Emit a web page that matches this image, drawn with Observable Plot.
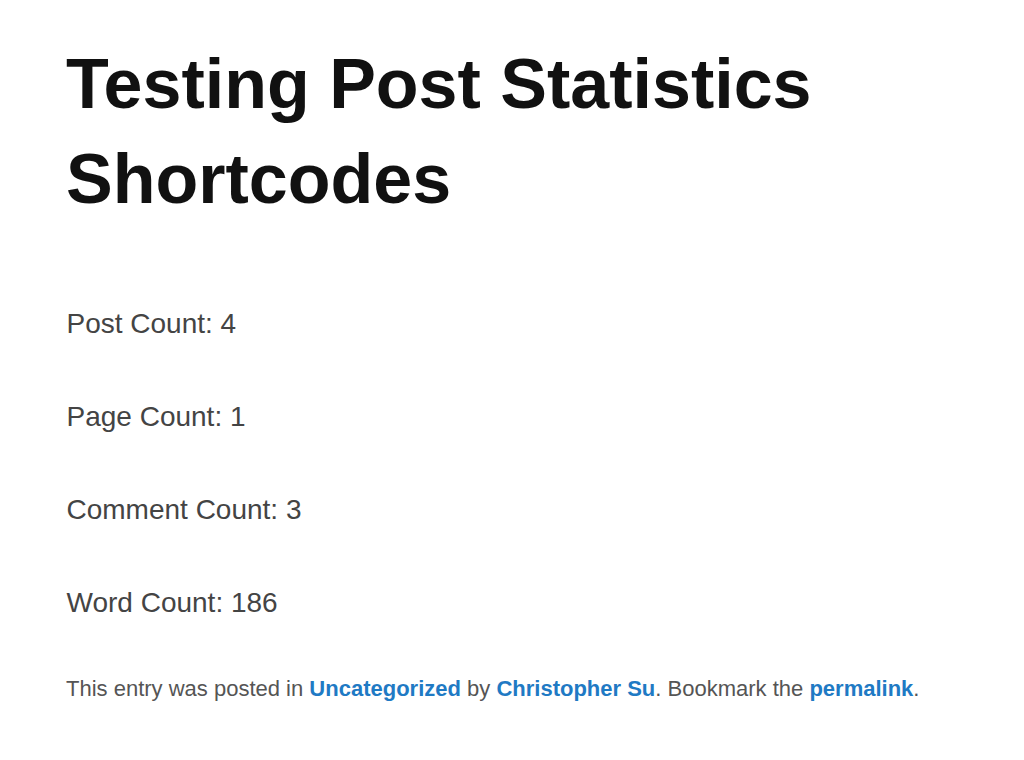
<!DOCTYPE html>
<html>
<head>
<meta charset="utf-8">
<script src="https://cdn.jsdelivr.net/npm/d3@7"></script>
<script src="https://cdn.jsdelivr.net/npm/@observablehq/plot@0.6"></script>
<style>
  body { margin: 0; background: #fff; font-family: "Liberation Sans", Arial, sans-serif; }
  h1 { position: absolute; left: 66px; top: 37px; margin: 0; font-size: 70px; line-height: 95px; font-weight: bold; color: #111; letter-spacing: 0; }
  #chart { position: absolute; left: 0; top: 276px; }
  .meta { position: absolute; left: 66px; top: 676px; margin: 0; font-size: 22px; color: #555; }
  .meta a { color: #1f7ac4; font-weight: bold; text-decoration: none; }
</style>
</head>
<body>
<h1>Testing Post Statistics<br>Shortcodes</h1>
<div id="chart"></div>
<p class="meta">This entry was posted in <a href="#">Uncategorized</a> by <a href="#">Christopher Su</a>. Bookmark the <a href="#">permalink</a>.</p>
<script>
const labels = ['Post Count', 'Page Count', 'Comment Count', 'Word Count']
const counts = [4, 1, 3, 186]

const data = labels.map((label, i) => ({label, count: counts[i]}))

let chart = Plot.plot({
    width: 1024,
    height: 376,
    marginTop: 47,
    marginBottom: 48,
    marginLeft: 66,
    marginRight: 20,
    y: {type: 'point', domain: labels, padding: 0, axis: null},
    x: {axis: null},
    marks: [
        Plot.text(data, {
            y: 'label',
            text: d => `${d.label}: ${d.count}`,
            frameAnchor: 'left',
            textAnchor: 'start',
            fontSize: 28,
            fill: '#444',
            fontFamily: 'Liberation Sans, Arial, sans-serif'
        })
    ],
    style: {background: 'white'}
})

d3.select('#chart').append(() => chart)
</script>
</body>
</html>
